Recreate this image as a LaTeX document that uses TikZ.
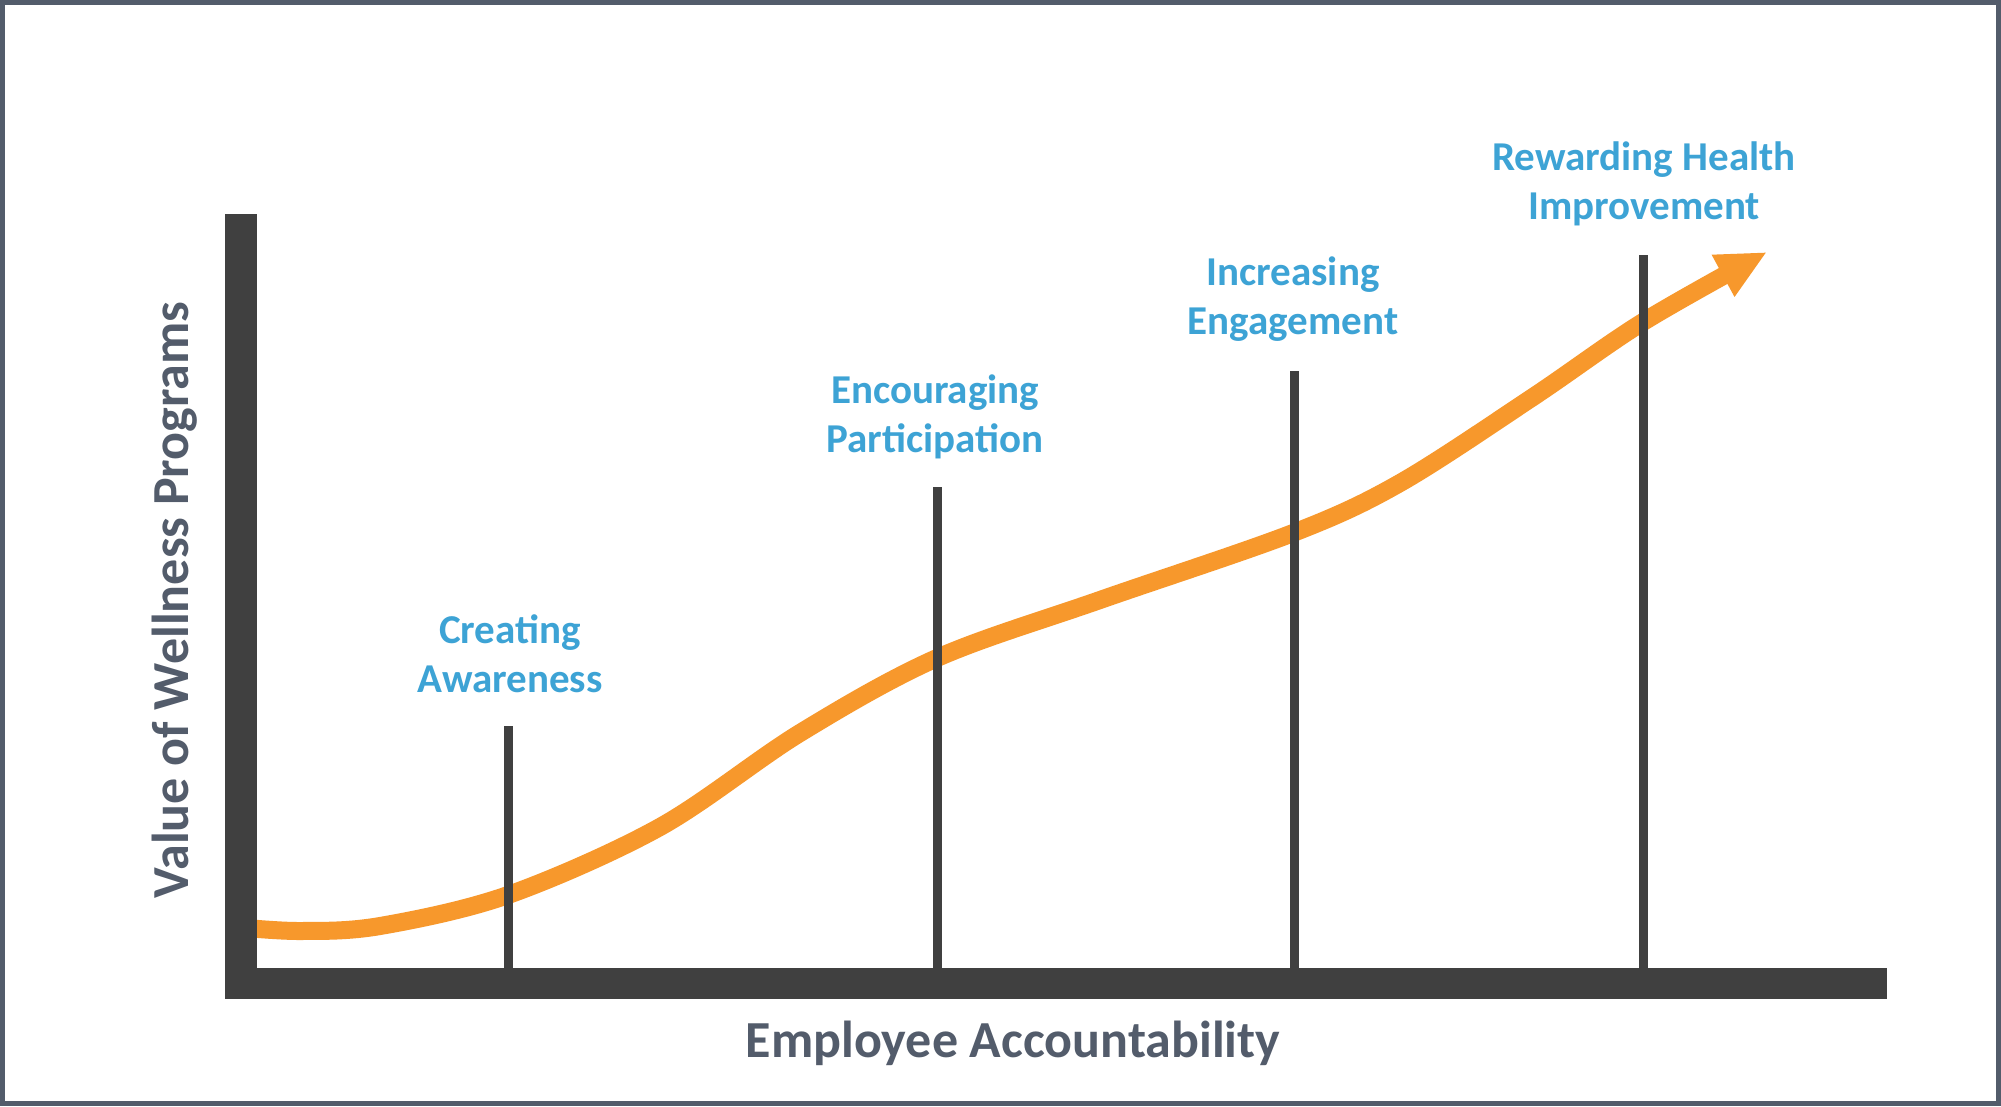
\documentclass[tikz,border=0pt]{standalone}
\usepackage{fontspec}
\setmainfont{Carlito}
\usetikzlibrary{arrows.meta}
\definecolor{axisdark}{RGB}{64,64,64}
\definecolor{frameblue}{RGB}{83,92,107}
\definecolor{labelblue}{RGB}{61,163,213}
\definecolor{curveorange}{RGB}{247,152,44}
\begin{document}
\begin{tikzpicture}[x=1pt,y=-1pt,
  stage/.style={font=\bfseries\fontsize{41}{49}\selectfont, text=labelblue, align=center, inner sep=0pt},
  axislabel/.style={font=\bfseries\fontsize{52}{62}\selectfont, text=frameblue, inner sep=0pt},
  bar/.style={draw=axisdark, line width=9pt},
  axisbox/.style={fill=axisdark},
  growth/.style={draw=curveorange, line width=18pt, -{Triangle[length=50pt,width=44pt]}}]
\useasboundingbox (0,0) rectangle (2001,1106);
\fill[white] (0,0) rectangle (2001,1106);
\draw[frameblue, line width=5pt] (2.5,2.5) rectangle (1998.5,1103.5);

% growth curve
\draw[growth] plot[smooth, tension=0.55] coordinates {
  (235,927) (300,931) (380,926) (508,895) (660,827) (800,733) (937,658)
  (1100,600) (1293,533) (1400,483) (1533,397) (1643,322) (1767,252)};

% axes
\fill[axisbox] (225,214) rectangle (257,999);
\fill[axisbox] (225,968) rectangle (1887,999);

% stage bars
\coordinate (b1top) at (508,726);  \coordinate (b1bot) at (508,968);
\coordinate (b2top) at (937.5,487); \coordinate (b2bot) at (937.5,968);
\coordinate (b3top) at (1294,371); \coordinate (b3bot) at (1294,968);
\coordinate (b4top) at (1643.5,255); \coordinate (b4bot) at (1643.5,968);
\draw[bar] (b1top) -- (b1bot);
\draw[bar] (b2top) -- (b2bot);
\draw[bar] (b3top) -- (b3bot);
\draw[bar] (b4top) -- (b4bot);

% stage labels (base anchor = baseline of the last line)
\node[stage, anchor=base] (s1) at (510,692) {Creating\\Awareness};
\node[stage, anchor=base] (s2) at (935,452.5) {Encouraging\\Participation};
\node[stage, anchor=base] (s3) at (1293,334.5) {Increasing\\Engagement};
\node[stage, anchor=base] (s4) at (1644,219) {Rewarding Health\\Improvement};

% axis labels
\node[axislabel, anchor=base] (xlab) at (1013,1057) {Employee Accountability};
\node[axislabel, rotate=90, anchor=base] (ylab) at (188,600) {Value of Wellness Programs};
\end{tikzpicture}
\end{document}
